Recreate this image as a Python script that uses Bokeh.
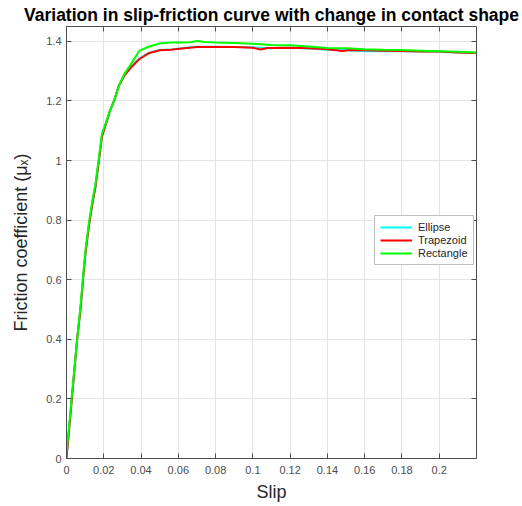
from bokeh.plotting import figure
from bokeh.models import (LinearAxis, FixedTicker, NumeralTickFormatter, Range1d,
                          Legend, LegendItem, CustomJSTickFormatter)
from bokeh.embed import file_html
from bokeh.resources import INLINE

# ---- data ----
slip_trap = [0.0, 0.001, 0.003, 0.0057, 0.0075, 0.009, 0.0102, 0.012, 0.014, 0.0155,
             0.018, 0.019, 0.021, 0.0235, 0.0255, 0.028, 0.031, 0.035, 0.039, 0.044,
             0.050, 0.056, 0.062, 0.070, 0.080, 0.090, 0.100, 0.104, 0.108, 0.120,
             0.130, 0.140, 0.148, 0.152, 0.160, 0.170, 0.180, 0.190, 0.200, 0.210, 0.220]
mu_trap = [0.0, 0.07, 0.21, 0.40, 0.50, 0.61, 0.69, 0.78, 0.86, 0.91,
           1.03, 1.08, 1.12, 1.17, 1.20, 1.25, 1.285, 1.315, 1.34, 1.36,
           1.37, 1.372, 1.376, 1.381, 1.381, 1.381, 1.379, 1.373, 1.378, 1.379,
           1.377, 1.374, 1.368, 1.371, 1.370, 1.369, 1.368, 1.366, 1.366, 1.363, 1.361]

slip_ell = [0.0, 0.001, 0.003, 0.0057, 0.0075, 0.009, 0.0102, 0.012, 0.014, 0.0155,
            0.018, 0.019, 0.021, 0.0235, 0.0255, 0.028, 0.031, 0.035, 0.039, 0.044,
            0.050, 0.056, 0.062, 0.070, 0.080, 0.090, 0.100, 0.110, 0.120, 0.130,
            0.140, 0.150, 0.160, 0.170, 0.180, 0.190, 0.200, 0.210, 0.220]
mu_ell = [0.0, 0.07, 0.21, 0.40, 0.50, 0.61, 0.69, 0.78, 0.86, 0.91,
          1.03, 1.08, 1.12, 1.17, 1.20, 1.25, 1.287, 1.317, 1.342, 1.361,
          1.371, 1.373, 1.377, 1.382, 1.382, 1.381, 1.380, 1.378, 1.379, 1.376,
          1.372, 1.370, 1.367, 1.368, 1.367, 1.366, 1.365, 1.363, 1.361]

slip_rect = [0.0, 0.001, 0.003, 0.0057, 0.0075, 0.009, 0.0102, 0.012, 0.014, 0.0155,
             0.018, 0.019, 0.021, 0.0235, 0.0255, 0.028, 0.031, 0.035, 0.039, 0.044,
             0.050, 0.056, 0.062, 0.066, 0.070, 0.074, 0.080, 0.090, 0.100, 0.110,
             0.120, 0.130, 0.140, 0.150, 0.160, 0.170, 0.180, 0.190, 0.200, 0.210, 0.220]
mu_rect = [0.02, 0.08, 0.22, 0.40, 0.51, 0.62, 0.70, 0.79, 0.87, 0.92,
           1.04, 1.09, 1.125, 1.17, 1.20, 1.25, 1.29, 1.328, 1.368, 1.382,
           1.393, 1.396, 1.396, 1.397, 1.401, 1.398, 1.396, 1.395, 1.392, 1.388,
           1.387, 1.383, 1.378, 1.377, 1.374, 1.372, 1.371, 1.369, 1.367, 1.365, 1.363]

x_ticks = [0, 0.02, 0.04, 0.06, 0.08, 0.1, 0.12, 0.14, 0.16, 0.18, 0.2]
y_ticks = [0, 0.2, 0.4, 0.6, 0.8, 1, 1.2, 1.4]

FONT = "Liberation Sans"
AX_COL = "#4d4d4d"

p = figure(width=522, height=506, output_backend="svg", toolbar_location=None,
           x_range=Range1d(0, 0.22), y_range=Range1d(0, 1.45),
           min_border_left=66, min_border_right=46, min_border_top=4,
           min_border_bottom=48, background_fill_color="white",
           border_fill_color="white")

p.title.text = "Variation in slip-friction curve with change in contact shape"
p.title.align = "center"
p.title.text_font = FONT
p.title.text_font_size = "17.5px"
p.title.text_font_style = "bold"
p.title.text_color = "black"
p.title.standoff = 4

for ax in (p.xaxis[0], p.yaxis[0]):
    ax.major_tick_in = 5
    ax.major_tick_out = 0
    ax.minor_tick_in = 0
    ax.minor_tick_out = 0
    ax.axis_line_color = AX_COL
    ax.major_tick_line_color = AX_COL
    ax.major_label_text_font = FONT
    ax.major_label_text_font_size = "11px"
    ax.major_label_text_color = "#4d4d4d"
    ax.axis_label_text_font = FONT
    ax.axis_label_text_font_size = "18px"
    ax.axis_label_text_font_style = "normal"
    ax.axis_label_text_color = "#262626"
    ax.formatter = NumeralTickFormatter(format="0.[00]")

p.xaxis.ticker = FixedTicker(ticks=x_ticks)
p.yaxis.ticker = FixedTicker(ticks=y_ticks)
p.xaxis.axis_label = "Slip"
p.yaxis.axis_label = "Friction coefficient (μₓ)"
p.xaxis.major_label_standoff = 7
p.xaxis.axis_label_standoff = 5
p.yaxis.major_label_standoff = 5
p.yaxis.axis_label_standoff = 12

blank = CustomJSTickFormatter(code="return ''")
top = LinearAxis(ticker=FixedTicker(ticks=x_ticks), formatter=blank,
                 major_tick_in=5, major_tick_out=0, minor_tick_in=0, minor_tick_out=0,
                 axis_line_color=AX_COL, major_tick_line_color=AX_COL,
                 major_label_standoff=0, major_label_text_font_size="1px")
right = LinearAxis(ticker=FixedTicker(ticks=y_ticks), formatter=blank,
                   major_tick_in=5, major_tick_out=0, minor_tick_in=0, minor_tick_out=0,
                   axis_line_color=AX_COL, major_tick_line_color=AX_COL,
                   major_label_standoff=0, major_label_text_font_size="1px")
p.add_layout(top, "above")
p.add_layout(right, "right")

p.xgrid.ticker = FixedTicker(ticks=x_ticks)
p.ygrid.ticker = FixedTicker(ticks=y_ticks)
p.grid.grid_line_color = "#e3e3e3"
p.grid.grid_line_width = 1
p.outline_line_color = None

r_ell = p.line(slip_ell, mu_ell, line_color="#00ffff", line_width=2)
r_trap = p.line(slip_trap, mu_trap, line_color="#ff0000", line_width=2)
r_rect = p.line(slip_rect, mu_rect, line_color="#00ff00", line_width=2)

legend = Legend(items=[LegendItem(label="Ellipse", renderers=[r_ell]),
                       LegendItem(label="Trapezoid", renderers=[r_trap]),
                       LegendItem(label="Rectangle", renderers=[r_rect])],
                location=(308, 193), label_text_font=FONT,
                label_text_font_size="11px", label_text_color="#262626",
                glyph_width=32, glyph_height=12, label_height=12, spacing=1,
                padding=5, margin=0, border_line_color="#7f7f7f",
                background_fill_alpha=1.0, label_standoff=6)
p.add_layout(legend, "center")

open("out.html", "w").write(file_html(p, INLINE))
